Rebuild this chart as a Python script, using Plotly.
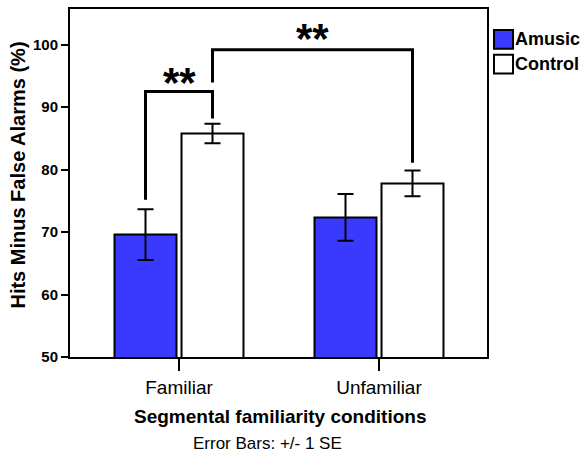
import plotly.graph_objects as go

categories = ["Familiar", "Unfamiliar"]
series_names = ["Amusic", "Control"]
amusic_means = [69.6, 72.35]
amusic_se = [4.05, 3.75]
control_means = [85.8, 77.8]
control_se = [1.55, 2.07]
y_ticks = [50, 60, 70, 80, 90, 100]

# significance brackets: (group_a, series_a, y_a, group_b, series_b, y_b, y_top, label, label_y)
brackets = [
    (0, 0, 75.2, 0, 1, 88.2, 92.5, "**", 94.6),
    (0, 1, 93.95, 1, 1, 81.1, 99.2, "**", 101.6),
]

BLUE = "#3a3aff"
FONT = "Liberation Sans, Arial, sans-serif"
bargap = 0.33
bargroupgap = 0.075
slot = (1 - bargap) / 2

xs = list(range(len(categories)))

def bar_center(group, series):
    return xs[group] + (series - 0.5) * slot

fig = go.Figure()
fig.add_trace(go.Bar(
    x=xs, y=amusic_means, name=series_names[0],
    marker=dict(color=BLUE, line=dict(color="black", width=2)),
    error_y=dict(type="data", array=amusic_se, color="black", thickness=2, width=8),
    showlegend=False,
))
fig.add_trace(go.Bar(
    x=xs, y=control_means, name=series_names[1],
    marker=dict(color="white", line=dict(color="black", width=2)),
    error_y=dict(type="data", array=control_se, color="black", thickness=2, width=8),
    showlegend=False,
))

annotations = []
for ga, sa, ya, gb, sb, yb, ytop, lab, laby in brackets:
    xa = bar_center(ga, sa)
    xb = bar_center(gb, sb)
    fig.add_trace(go.Scatter(
        x=[xa, xa, xb, xb], y=[ya, ytop, ytop, yb], mode="lines",
        line=dict(color="black", width=3), showlegend=False, hoverinfo="skip",
    ))
    annotations.append(dict(
        x=(xa + xb) / 2, y=laby, xref="x", yref="y", text="<b>" + lab + "</b>",
        showarrow=False, font=dict(family=FONT, size=42, color="black"),
        xanchor="center", yanchor="middle", yshift=-4,
    ))

# titles
annotations.append(dict(
    x=-0.1247, y=0.5214, xref="paper", yref="paper", textangle=-90,
    text="<b>Hits Minus False Alarms (%)</b>", showarrow=False,
    font=dict(family=FONT, size=20, color="black"), xanchor="center", yanchor="middle",
))
annotations.append(dict(
    x=0.5024, y=-0.1714, xref="paper", yref="paper",
    text="<b>Segmental familiarity conditions</b>", showarrow=False,
    font=dict(family=FONT, size=19, color="black"), xanchor="center", yanchor="middle",
))
annotations.append(dict(
    x=0.4748, y=-0.2486, xref="paper", yref="paper",
    text="Error Bars: +/- 1 SE", showarrow=False,
    font=dict(family=FONT, size=17, color="black"), xanchor="center", yanchor="middle",
))

# custom legend
shapes = []
legend_fill = [BLUE, "white"]
box_tops = [0.94, 0.8686]
box_h = 0.0543
for name, fill, top in zip(series_names, legend_fill, box_tops):
    shapes.append(dict(
        type="rect", xref="paper", yref="paper",
        x0=1.0168, x1=1.0624, y0=top - box_h, y1=top,
        fillcolor=fill, line=dict(color="black", width=2),
    ))
    annotations.append(dict(
        x=1.0625, y=top - box_h / 2, xref="paper", yref="paper",
        text="<b>" + name + "</b>", showarrow=False,
        font=dict(family=FONT, size=18, color="black"), xanchor="left", yanchor="middle",
    ))

fig.update_layout(
    width=587, height=457,
    margin=dict(l=70, r=100, t=7, b=100),
    paper_bgcolor="white", plot_bgcolor="white",
    barmode="group", bargap=bargap, bargroupgap=bargroupgap,
    annotations=annotations, shapes=shapes,
    font=dict(family=FONT, color="black"),
    xaxis=dict(
        range=[-0.545, 1.54], tickmode="array", tickvals=xs, ticktext=categories,
        ticks="outside", ticklen=12, tickwidth=2, tickcolor="black",
        showline=True, linecolor="black", linewidth=2, mirror=True,
        showgrid=False, zeroline=False,
        tickfont=dict(family=FONT, size=19, color="black"),
    ),
    yaxis=dict(
        range=[50, 105.73], tickmode="array", tickvals=y_ticks,
        ticktext=["<b>%d</b>" % t for t in y_ticks],
        ticks="outside", ticklen=7, tickwidth=2, tickcolor="black",
        showline=True, linecolor="black", linewidth=2, mirror=True,
        showgrid=False, zeroline=False,
        tickfont=dict(family=FONT, size=15, color="black"),
    ),
)

fig.write_html(
    "out.html",
    config={"displayModeBar": False},
    post_script="document.body.style.margin='0';document.body.style.padding='0';document.body.style.overflow='hidden';",
)
